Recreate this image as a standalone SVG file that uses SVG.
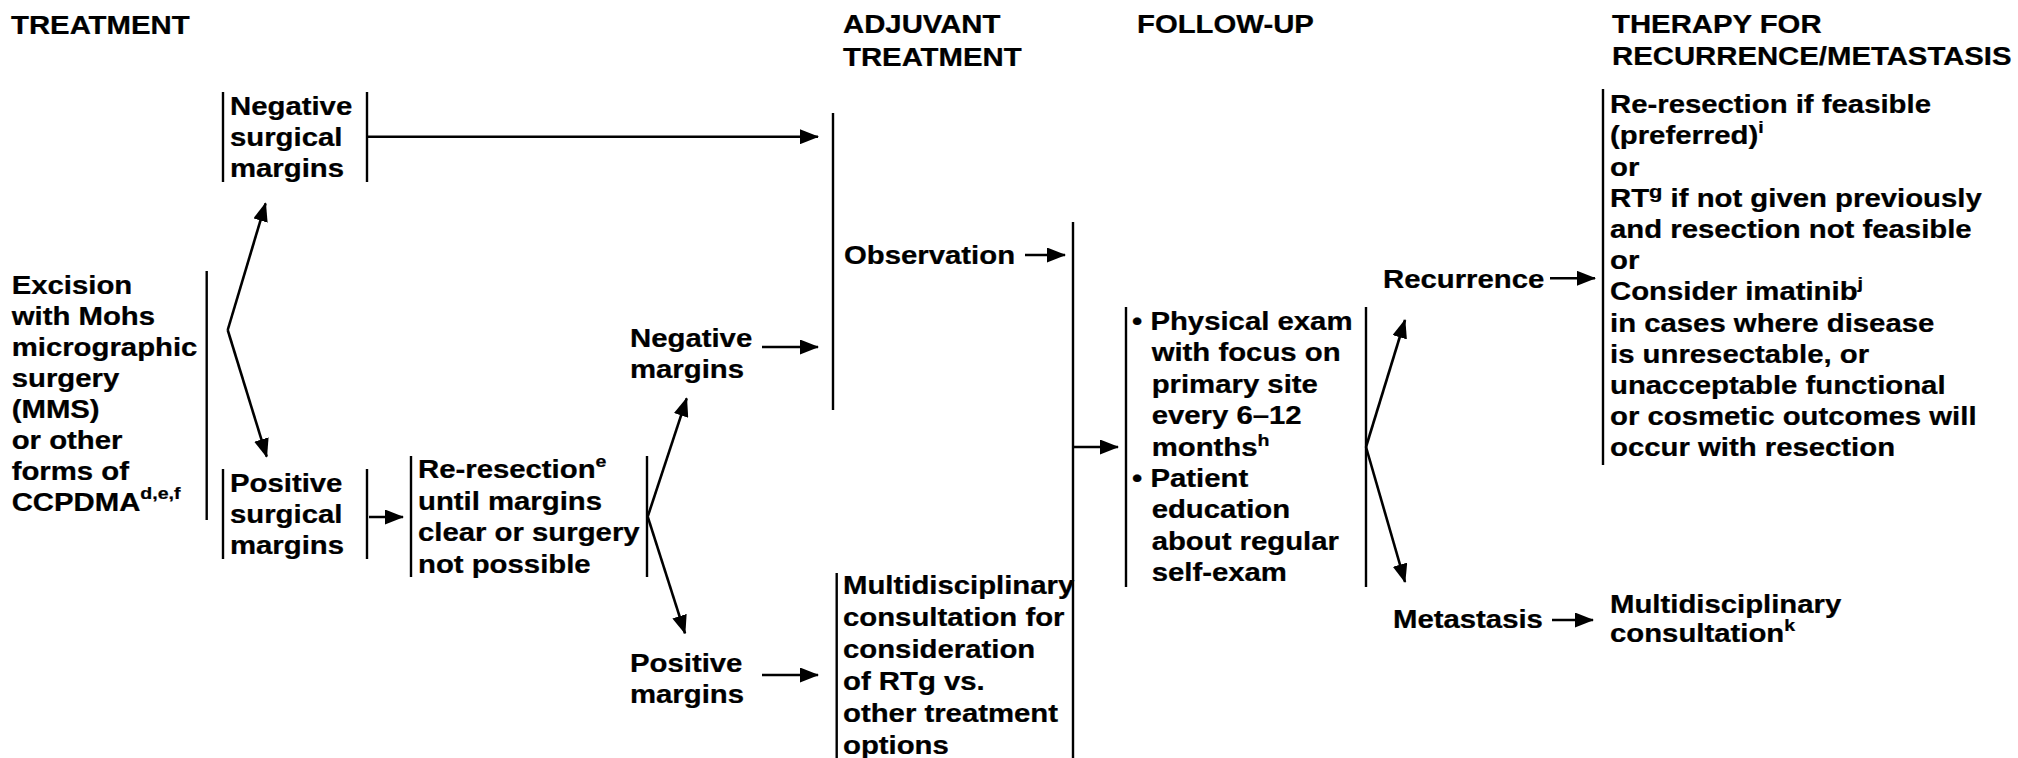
<svg xmlns="http://www.w3.org/2000/svg" width="2018" height="758" viewBox="0 0 2018 758">
<style>
text{font-family:"Liberation Sans",Arial,Helvetica,sans-serif;font-weight:bold;font-size:25.5px;fill:#000;stroke:#000;stroke-width:0.25px}
.sup{font-size:17px}
.bar{stroke:#000;stroke-width:2.4;fill:none}
.con{stroke:#000;stroke-width:2.6;fill:none}
</style>
<defs>
<marker id="ah" markerUnits="userSpaceOnUse" markerWidth="19" markerHeight="15" refX="18" refY="7.5" orient="auto">
<path d="M0,0 L19,7.5 L0,15 z" fill="#000"/>
</marker>
</defs>
<rect width="2018" height="758" fill="#fff"/>

<g id="headers">
<g transform="translate(11,0) scale(1.15,1)"><text x="0" y="34">TREATMENT</text></g>
<g transform="translate(843,0) scale(1.15,1)"><text x="0" y="33">ADJUVANT</text><text x="0" y="66">TREATMENT</text></g>
<g transform="translate(1137,0) scale(1.15,1)"><text x="0" y="33">FOLLOW-UP</text></g>
<g transform="translate(1612,0) scale(1.15,1)"><text x="0" y="33">THERAPY FOR</text><text x="0" y="65">RECURRENCE/METASTASIS</text></g>
</g>

<g id="n-excision">
<line class="bar" x1="206.7" y1="271" x2="206.7" y2="520"/>
<g transform="translate(11.7,0) scale(1.15,1)">
<text x="0" y="294">Excision</text>
<text x="0" y="325">with Mohs</text>
<text x="0" y="356">micrographic</text>
<text x="0" y="387">surgery</text>
<text x="0" y="418">(MMS)</text>
<text x="0" y="449">or other</text>
<text x="0" y="480">forms of</text>
<text x="0" y="511">CCPDMA<tspan class="sup" dy="-12">d,e,f</tspan></text>
</g>
</g>

<g id="n-neg-surgical">
<line class="bar" x1="223" y1="92" x2="223" y2="182"/>
<line class="bar" x1="367" y1="92" x2="367" y2="182"/>
<g transform="translate(230,0) scale(1.15,1)">
<text x="0" y="115">Negative</text>
<text x="0" y="146">surgical</text>
<text x="0" y="177">margins</text>
</g>
</g>

<g id="n-pos-surgical">
<line class="bar" x1="223" y1="469" x2="223" y2="559"/>
<line class="bar" x1="367" y1="469" x2="367" y2="559"/>
<g transform="translate(230,0) scale(1.15,1)">
<text x="0" y="492">Positive</text>
<text x="0" y="523">surgical</text>
<text x="0" y="554">margins</text>
</g>
</g>

<g id="n-reresection">
<line class="bar" x1="411" y1="456" x2="411" y2="577"/>
<line class="bar" x1="647" y1="456" x2="647" y2="577"/>
<g transform="translate(418,0) scale(1.15,1)">
<text x="0" y="478">Re-resection<tspan class="sup" dy="-11">e</tspan></text>
<text x="0" y="510">until margins</text>
<text x="0" y="541.5">clear or surgery</text>
<text x="0" y="573">not possible</text>
</g>
</g>

<g id="n-neg-margins">
<g transform="translate(630,0) scale(1.15,1)">
<text x="0" y="347">Negative</text>
<text x="0" y="378">margins</text>
</g>
</g>

<g id="n-pos-margins">
<g transform="translate(630,0) scale(1.15,1)">
<text x="0" y="672">Positive</text>
<text x="0" y="703">margins</text>
</g>
</g>

<g id="n-observation">
<line class="bar" x1="833" y1="113" x2="833" y2="410"/>
<g transform="translate(844,0) scale(1.15,1)"><text x="0" y="264">Observation</text></g>
</g>

<g id="n-multidisciplinary">
<line class="bar" x1="836.7" y1="573" x2="836.7" y2="758"/>
<g transform="translate(843,0) scale(1.15,1)">
<text x="0" y="594">Multidisciplinary</text>
<text x="0" y="626">consultation for</text>
<text x="0" y="658">consideration</text>
<text x="0" y="690">of RTg vs.</text>
<text x="0" y="722">other treatment</text>
<text x="0" y="754">options</text>
</g>
</g>

<g id="n-followup">
<line class="bar" x1="1126" y1="307" x2="1126" y2="587"/>
<line class="bar" x1="1366" y1="307" x2="1366" y2="587"/>
<g transform="translate(1132,0) scale(1.15,1)">
<text x="0" y="330">• Physical exam</text>
<text x="17.1" y="361.5">with focus on</text>
<text x="17.1" y="393">primary site</text>
<text x="17.1" y="424.5">every 6–12</text>
<text x="17.1" y="456">months<tspan class="sup" dy="-10">h</tspan></text>
<text x="0" y="487">• Patient</text>
<text x="17.1" y="518.5">education</text>
<text x="17.1" y="550">about regular</text>
<text x="17.1" y="581.5">self-exam</text>
</g>
</g>

<g id="n-recurrence">
<g transform="translate(1383,0) scale(1.15,1)"><text x="0" y="288">Recurrence</text></g>
</g>

<g id="n-metastasis">
<g transform="translate(1393,0) scale(1.15,1)"><text x="0" y="628">Metastasis</text></g>
</g>

<g id="n-therapy-recurrence">
<line class="bar" x1="1603" y1="89" x2="1603" y2="465"/>
<g transform="translate(1610,0) scale(1.15,1)">
<text x="0" y="113.3">Re-resection if feasible</text>
<text x="0" y="144.5">(preferred)<tspan class="sup" dy="-11">i</tspan></text>
<text x="0" y="175.7">or</text>
<text x="0" y="206.9">RT<tspan font-size="19px" dy="-9">g</tspan><tspan dy="9"> if not given previously</tspan></text>
<text x="0" y="238.1">and resection not feasible</text>
<text x="0" y="269.3">or</text>
<text x="0" y="300.5">Consider imatinib<tspan class="sup" dy="-11">j</tspan></text>
<text x="0" y="331.7">in cases where disease</text>
<text x="0" y="362.9">is unresectable, or</text>
<text x="0" y="394.1">unacceptable functional</text>
<text x="0" y="425.3">or cosmetic outcomes will</text>
<text x="0" y="456.5">occur with resection</text>
</g>
</g>

<g id="n-therapy-metastasis">
<g transform="translate(1610,0) scale(1.15,1)">
<text x="0" y="613">Multidisciplinary</text>
<text x="0" y="642">consultation<tspan class="sup" dy="-11">k</tspan></text>
</g>
</g>

<g id="connectors">
<line class="con" x1="367" y1="136.7" x2="818" y2="136.7" marker-end="url(#ah)"/>
<line class="con" x1="1025" y1="255" x2="1065" y2="255" marker-end="url(#ah)"/>
<line class="con" x1="762" y1="347" x2="818" y2="347" marker-end="url(#ah)"/>
<line class="con" x1="762" y1="675" x2="818" y2="675" marker-end="url(#ah)"/>
<line class="con" x1="369" y1="517" x2="403" y2="517" marker-end="url(#ah)"/>
<line class="bar" x1="1073" y1="222" x2="1073" y2="758"/>
<line class="con" x1="1073" y1="447" x2="1118" y2="447" marker-end="url(#ah)"/>
<line class="con" x1="1550" y1="278.3" x2="1595" y2="278.3" marker-end="url(#ah)"/>
<line class="con" x1="1552" y1="620" x2="1593" y2="620" marker-end="url(#ah)"/>
<line class="con" x1="227.7" y1="330" x2="265.6" y2="203.3" marker-end="url(#ah)"/>
<line class="con" x1="227.7" y1="330" x2="266.7" y2="456.7" marker-end="url(#ah)"/>
<line class="con" x1="647.7" y1="516.7" x2="686.7" y2="398.3" marker-end="url(#ah)"/>
<line class="con" x1="647.7" y1="516.7" x2="685" y2="633.3" marker-end="url(#ah)"/>
<line class="con" x1="1366" y1="447" x2="1405" y2="320" marker-end="url(#ah)"/>
<line class="con" x1="1366" y1="447" x2="1405" y2="582" marker-end="url(#ah)"/>
</g>
</svg>
